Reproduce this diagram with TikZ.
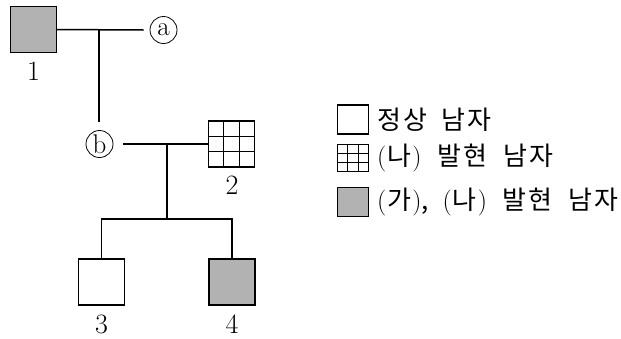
\documentclass[tikz,border=0pt]{standalone}
\usepackage{fontspec}
\newfontfamily\kr[LetterSpace=8]{Noto Sans CJK KR}
\usetikzlibrary{calc}
\newcommand{\lpar}{{\rmfamily(}\kern1pt}
\newcommand{\rpar}{\kern1pt{\rmfamily)}}
\begin{document}
\begin{tikzpicture}[x=1pt,y=-1pt,
  conn/.style={line width=1.5pt},
  sq/.style={draw, line width=1.2pt, minimum size=46pt, inner sep=0pt, outer sep=0pt},
  aff/.style={sq, fill=black!30},
  lab/.style={font=\fontsize{28}{28}\selectfont, inner sep=0pt},
  circ/.style={circle, draw, line width=0.8pt, minimum size=27pt, inner sep=0pt, font=\fontsize{27}{27}\selectfont},
  leg/.style={draw, line width=1.2pt, minimum width=31pt, minimum height=29pt, inner sep=0pt, outer sep=0pt},
  legtxt/.style={anchor=west, inner sep=0pt, font=\kr\fontsize{26}{26}\selectfont},
  gridl/.style={line width=1pt}]
\useasboundingbox (0,0) rectangle (621,338);
% generation I
\node[aff] (s1) at (33.5,29.5) {};
\node[lab] (l1) at (33.5,71) {1};
\node[circ] (a) at (163.5,30) {\raisebox{1.5pt}{a}};
\coordinate (m1) at (99,30);
\draw[conn] (s1.east) -- ([xshift=-6pt]a.west);
\draw[conn] (m1) -- (99,122);
% generation II
\node[circ] (b) at (99.5,144) {b};
\node[sq] (s2) at (231.5,144) {};
\foreach \f in {0.3333,0.6667}{
  \draw[gridl] ($(s2.north west)!\f!(s2.north east)$) -- ($(s2.south west)!\f!(s2.south east)$);
  \draw[gridl] ($(s2.north west)!\f!(s2.south west)$) -- ($(s2.north east)!\f!(s2.south east)$);
}
\node[lab] (l2) at (232,185) {2};
\coordinate (m2) at (167,144);
\coordinate (sib) at (167,219);
\draw[conn] ([xshift=10pt]b.east) -- (s2.west);
\draw[conn] (m2) -- (sib);
% generation III
\node[sq] (s3) at (101.5,282) {};
\node[aff] (s4) at (232,282) {};
\node[lab] (l3) at (101.5,324) {3};
\node[lab] (l4) at (232,324) {4};
\draw[conn] (s3.north) |- (sib) -| (s4.north);
% legend
\node[leg] (k1) at (353,119.5) {};
\node[legtxt] (t1) at (377,120) {정상\hspace{6pt} 남자};
\node[leg, minimum height=27pt] (k2) at (353,158) {};
\foreach \f in {0.3333,0.6667}{
  \draw[gridl] ($(k2.north west)!\f!(k2.north east)$) -- ($(k2.south west)!\f!(k2.south east)$);
  \draw[gridl] ($(k2.north west)!\f!(k2.south west)$) -- ($(k2.north east)!\f!(k2.south east)$);
}
\node[legtxt] (t2) at (377,158) {\lpar 나\rpar\hspace{8pt} 발현\hspace{8pt} 남자};
\node[leg, fill=black!30] (k3) at (353,202) {};
\node[legtxt] (t3) at (377,202) {\lpar 가\rpar,\hspace{6pt} \lpar 나\rpar\hspace{8pt} 발현\hspace{8pt} 남자};
\end{tikzpicture}
\end{document}
